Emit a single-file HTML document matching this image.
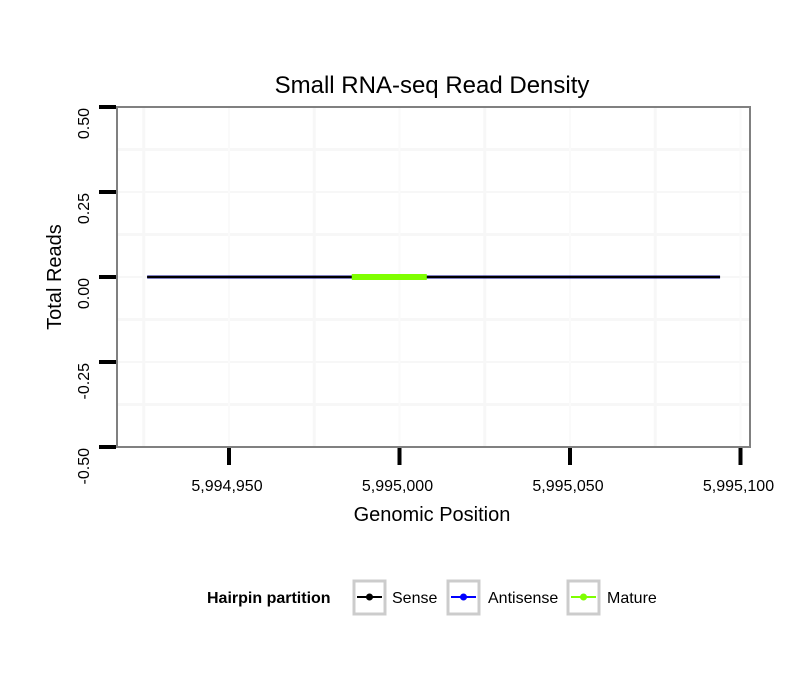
<!DOCTYPE html>
<html><head><meta charset="utf-8"><style>
body{margin:0;background:#fff}
svg text{font-family:"Liberation Sans",sans-serif}
</style></head><body>
<svg width="810" height="690" xmlns="http://www.w3.org/2000/svg">
<g id="grid"></g>
<rect x="117" y="107" width="633" height="340" fill="none" stroke="#808080" stroke-width="2"/>
<g id="series"></g>
<g id="axes"></g>
<text x="432" y="93" font-size="24" text-anchor="middle">Small RNA-seq Read Density</text>
<text x="432" y="521" font-size="20" text-anchor="middle">Genomic Position</text>
<text transform="translate(61,277) rotate(-90)" font-size="20" text-anchor="middle">Total Reads</text>
<g>
<text x="207" y="603" font-size="16" font-weight="bold">Hairpin partition</text>
<g><rect x="354" y="581" width="31" height="33" fill="#fff" stroke="#ccc" stroke-width="3"/><line x1="357" y1="597" x2="382" y2="597" stroke="#000" stroke-width="2"/><circle cx="369.5" cy="597" r="3.5" fill="#000"/><text x="392" y="603" font-size="16">Sense</text></g>
<g><rect x="448" y="581" width="31" height="33" fill="#fff" stroke="#ccc" stroke-width="3"/><line x1="451" y1="597" x2="476" y2="597" stroke="#00f" stroke-width="2"/><circle cx="463.5" cy="597" r="3.5" fill="#00f"/><text x="488" y="603" font-size="16">Antisense</text></g>
<g><rect x="568" y="581" width="31" height="33" fill="#fff" stroke="#ccc" stroke-width="3"/><line x1="571" y1="597" x2="596" y2="597" stroke="#7fff00" stroke-width="2"/><circle cx="583.5" cy="597" r="3.5" fill="#7fff00"/><text x="607" y="603" font-size="16">Mature</text></g>
</g>
</svg>
<script>
const xTicks=[5994950,5995000,5995050,5995100];
const xTickLabels=["5,994,950","5,995,000","5,995,050","5,995,100"];
const yTicks=[0.5,0.25,0,-0.25,-0.5];
const yTickLabels=["0.50","0.25","0.00","-0.25","-0.50"];
const senseX=[5994926,5995094];
const senseY=[0,0];
const antisenseX=[5994926,5995094];
const antisenseY=[0,0];
const matureX=[5994986,5995008];
const matureY=[0,0];
const NS="http://www.w3.org/2000/svg";
const xs=v=>229+(v-5994950)*(170.5/50);
const ys=v=>277-v*340;
function mk(tag,attrs,parent){const e=document.createElementNS(NS,tag);for(const k in attrs)e.setAttribute(k,attrs[k]);document.getElementById(parent).appendChild(e);return e;}
// grid
for(let i=0;i<yTicks.length;i++){
  const l=mk('line',{x1:118,x2:749,y1:ys(yTicks[i]),y2:ys(yTicks[i]),stroke:'#f7f7f7','stroke-width':2},'grid');
  
  
  if(i<yTicks.length-1){const m=mk('line',{x1:118,x2:749,y1:ys((yTicks[i]+yTicks[i+1])/2),y2:ys((yTicks[i]+yTicks[i+1])/2),stroke:'#f7f7f7','stroke-width':3},'grid');
  
  }
}
for(let i=0;i<xTicks.length;i++){
  const l=mk('line',{y1:108,y2:446,x1:xs(xTicks[i]),x2:xs(xTicks[i]),stroke:'#fafafa','stroke-width':2},'grid');
  
  
  const mx=xs(xTicks[i]-25);
  const m=mk('line',{y1:108,y2:446,x1:mx,x2:mx,stroke:'#f7f7f7','stroke-width':3},'grid');
  
  
}
// series
function line(X,Y,color,w,name){
  const p=mk('polyline',{points:X.map((x,i)=>xs(x)+','+ys(Y[i])).join(' '),fill:'none',stroke:color,'stroke-width':w},'series');
  
  
}
line(antisenseX,antisenseY,'#000080',3,'antisense-line');
line(senseX,senseY,'#000',2,'sense-line');
line(matureX,matureY,'#7fff00',6,'mature-line');
// axes
yTicks.forEach((v,i)=>{
  const t=mk('line',{x1:99,x2:116,y1:ys(v),y2:ys(v),stroke:'#000','stroke-width':4},'axes');
  
  
  const tx=mk('text',{transform:`translate(89,${ys(v)+1}) rotate(-90)`,'font-size':16,'text-anchor':'end',fill:'#000'},'axes');
  tx.textContent=yTickLabels[i];
  
  
});
xTicks.forEach((v,i)=>{
  const t=mk('line',{x1:xs(v),x2:xs(v),y1:448,y2:465,stroke:'#000','stroke-width':4},'axes');
  
  
  const tx=mk('text',{x:xs(v)-2,y:491,'font-size':16,'text-anchor':'middle',fill:'#000'},'axes');
  tx.textContent=xTickLabels[i];
  
  
});
</script>
</body></html>
